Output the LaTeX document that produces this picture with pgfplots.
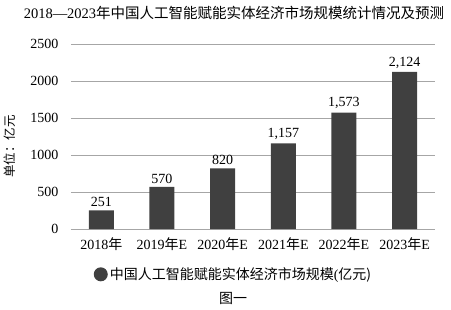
\documentclass[border=0pt]{standalone}
\usepackage{fontspec}
\setmainfont{Liberation Serif}
\newfontfamily\cjk{Noto Sans CJK SC}
\usepackage{pgfplots}
\pgfplotsset{compat=1.18}
\definecolor{barc}{HTML}{404040}
\definecolor{gridc}{HTML}{A6A6A6}
\begin{document}
\begin{tikzpicture}[x=1pt,y=1pt]
\path[use as bounding box] (0,0) rectangle (451,309);
\begin{axis}[
  at={(71pt,80pt)}, anchor=south west,
  scale only axis, width=364pt, height=185pt,
  ymin=0, ymax=2500, ytick={0,500,...,2500},
  xmin=-0.5, xmax=5.5,
  xtick={0,...,5},
  xticklabels={{2018{\cjk 年}}, {2019{\cjk 年}E}, {2020{\cjk 年}E}, {2021{\cjk 年}E}, {2022{\cjk 年}E}, {2023{\cjk 年}E}},
  axis x line*=bottom, axis y line*=left,
  y axis line style={draw=none},
  x axis line style={draw=gridc, line width=0.8pt},
  major tick length=0pt,
  ymajorgrids, grid style={gridc, line width=0.8pt},
  /pgf/number format/assume math mode=true,
  yticklabel style={/pgf/number format/1000 sep={}, xshift=-9pt},
  xticklabel style={yshift=-5pt},
  tick label style={font=\fontsize{14}{16}\selectfont},
  ylabel={\cjk 单位：亿元},
  ylabel style={at={(axis description cs:-0.168,0.445)}, anchor=center, font=\fontsize{12.5}{14}\selectfont},
  nodes near coords,
  nodes near coords style={font=\fontsize{14}{16}\selectfont, /pgf/number format/1000 sep={,}},
  legend style={draw=none, fill=none, at={(axis description cs:0.062,-0.245)}, anchor=west, font=\fontsize{14}{16}\selectfont, inner sep=0pt},
  legend image code/.code={\fill[barc] (0.22cm,0cm) circle (7pt);},
]
\addplot[ybar, bar width=25pt, fill=barc, draw=none] coordinates {(0,251) (1,570) (2,820) (3,1157) (4,1573) (5,2124)};
\addlegendentry{{\cjk 中国人工智能赋能实体经济市场规模}(\cjk 亿元)}
\end{axis}
\node[font=\fontsize{14.5}{17}\selectfont] at (234,296) {2018—2023{\cjk 年中国人工智能赋能实体经济市场规模统计情况及预测}};
\node[font=\fontsize{14}{16}\selectfont] at (233,11) {\cjk 图一};
\end{tikzpicture}
\end{document}
